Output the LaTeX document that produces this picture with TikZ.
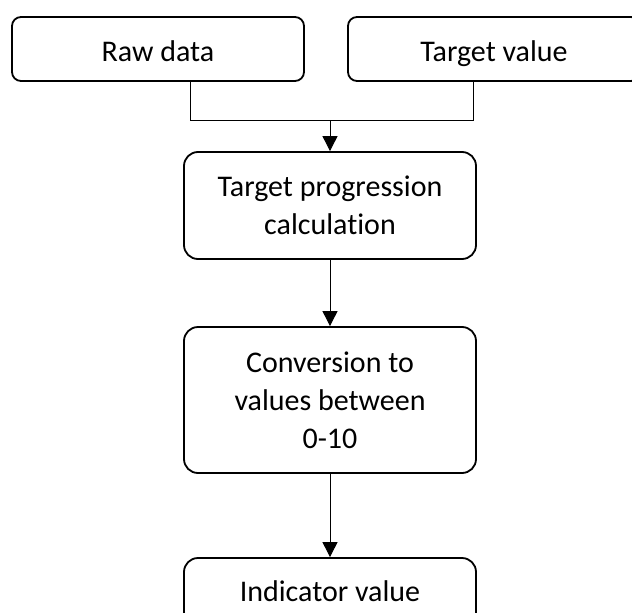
\documentclass[tikz,border=0pt]{standalone}
\usepackage{fontspec}
\setmainfont[Ligatures={NoCommon}]{Carlito}
\usetikzlibrary{arrows.meta}
\tikzset{
  topbox/.style={draw, line width=1.8pt, rounded corners=9pt, minimum width=292pt, minimum height=64pt, inner sep=0pt, align=center, text height=24pt, text depth=0pt, font=\fontsize{30}{38}\selectfont},
  midbox/.style={draw, line width=1.8pt, rounded corners=14pt, minimum width=292pt, inner sep=0pt, align=center, font=\fontsize{30}{38}\selectfont},
  conn/.style={line width=0.9pt},
  arr/.style={line width=0.9pt, -{Triangle[width=15pt,length=15pt]}}
}
\begin{document}
\begin{tikzpicture}[x=1pt,y=-1pt]
\useasboundingbox (0,0) rectangle (632,613);
\clip (0,0) rectangle (632,613);
\node[topbox] (raw) at (158,49) {Raw data};
\node[topbox] (tv) at (494,49) {Target value};
\node[midbox, minimum height=107pt] (tpc) at (330,205.5) {Target progression\\calculation};
\node[midbox, minimum height=146pt] (conv) at (330,400) {Conversion to\\values between\\0-10};
\node[midbox, minimum height=68pt, text height=22pt, text depth=4pt] (ind) at (330,592) {Indicator value};
\coordinate (rx) at (190,120);
\coordinate (tx) at (473,120);
\coordinate (j) at (330,120);
\draw[conn] (raw.south -| rx) -- (rx) -- (tx) -- (tv.south -| tx);
\draw[arr] (j) -- (tpc.north);
\draw[arr] (tpc.south) -- (conv.north);
\draw[arr] (conv.south) -- (ind.north);
\end{tikzpicture}
\end{document}
